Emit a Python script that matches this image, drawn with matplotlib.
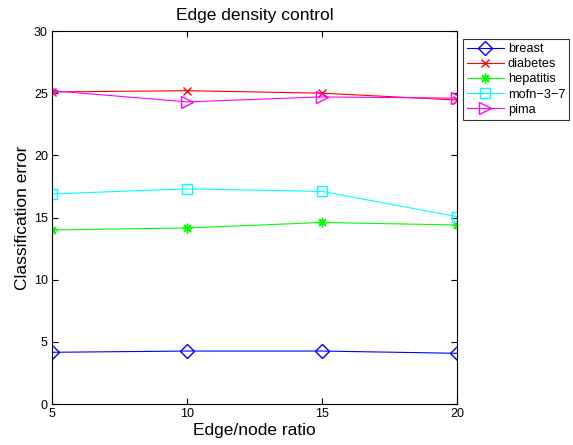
import numpy as np
from matplotlib import pyplot as plt

plt.rcParams['font.family'] = ['Liberation Sans', 'DejaVu Sans']

# data
ratios = [5, 10, 15, 20]
breast = [4.16, 4.26, 4.26, 4.08]
diabetes = [25.1, 25.2, 25.0, 24.45]
hepatitis = [14.0, 14.16, 14.6, 14.4]
mofn = [16.9, 17.3, 17.1, 15.07]
pima = [25.2, 24.3, 24.7, 24.6]

fig = plt.figure(figsize=(5.73, 4.45), dpi=100)
ax = fig.add_axes([0.0908, 0.0921, 0.7068, 0.8382])

ax.plot(ratios, breast, color='#0000ff', marker='D', mfc='none', ms=7, lw=0.8, label='breast')
ax.plot(ratios, diabetes, color='#ff0000', marker='x', ms=6, lw=0.8, label='diabetes')
ax.plot(ratios, hepatitis, color='#00ff00', marker=(8, 2, 0), ms=7, lw=0.8, label='hepatitis')
ax.plot(ratios, mofn, color='#00ffff', marker='s', mfc='none', ms=7, lw=0.8, label='mofn\u22123\u22127')
ax.plot(ratios, pima, color='#ff00ff', marker='>', mfc='none', ms=8, lw=0.8, label='pima')

ax.set_xlim(5, 20)
ax.set_ylim(0, 30)
ax.set_xticks([5, 10, 15, 20])
ax.set_yticks(np.arange(0, 31, 5))
ax.tick_params(direction='in', top=True, right=True, labelsize=9, length=4, pad=3)
for s in ax.spines.values():
    s.set_linewidth(0.8)

ax.set_title('Edge density control', fontsize=12.5, pad=8)
ax.set_xlabel('Edge/node ratio', fontsize=12.5, labelpad=2)
ax.set_ylabel('Classification error', fontsize=12.5, labelpad=3)

# legend sits outside the axes, to the right
leg = ax.legend(loc='upper left', bbox_to_anchor=(0.808, 0.912), bbox_transform=fig.transFigure,
                fontsize=9.2, frameon=True, fancybox=False, edgecolor='k',
                borderpad=0.3, labelspacing=0.25, handlelength=2.9, handletextpad=0.3,
                borderaxespad=0)
leg.get_frame().set_linewidth(0.8)

fig.savefig('out.png', dpi=100)
